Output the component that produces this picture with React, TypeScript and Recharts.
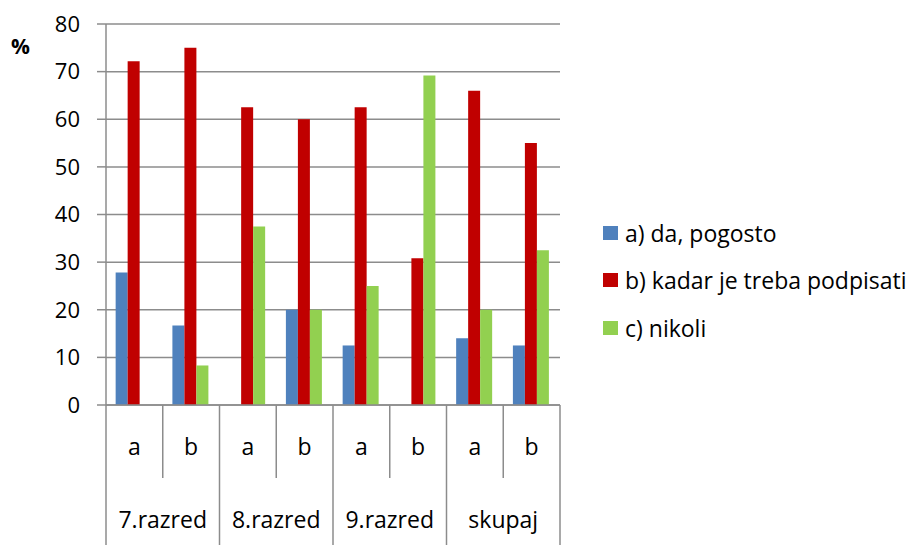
import { BarChart, Bar, XAxis, YAxis, CartesianGrid, Legend } from 'recharts';

const subLabels = ['a', 'b', 'a', 'b', 'a', 'b', 'a', 'b'];
const groupLabels = ['7.razred', '7.razred', '8.razred', '8.razred', '9.razred', '9.razred', 'skupaj', 'skupaj'];
const daPogosto = [27.8, 16.7, 0, 20, 12.5, 0, 14, 12.5];
const kadarTreba = [72.2, 75, 62.5, 60, 62.5, 30.8, 66, 55];
const nikoli = [0, 8.3, 37.5, 20, 25, 69.2, 20, 32.5];
const yTicks = [0, 10, 20, 30, 40, 50, 60, 70, 80];

const seriesNames = ['a) da, pogosto', 'b) kadar je treba podpisati', 'c) nikoli'];
const colors = ['#4f81bd', '#c00000', '#92d050'];

const data = subLabels.map((s, i) => ({
  idx: i,
  sub: s,
  group: groupLabels[i],
  a: daPogosto[i],
  b: kadarTreba[i],
  c: nikoli[i],
}));

const W = 913;
const H = 545;
const PLOT_LEFT = 106;
const PLOT_RIGHT = 560;
const PLOT_TOP = 24;
const PLOT_BOTTOM = 405;
const PLOT_W = PLOT_RIGHT - PLOT_LEFT;
const FONT = '"Open Sans", sans-serif';
const GRID = '#8c8c8c';

function MultiTick(props: any) {
  const { x, payload } = props;
  const i = payload.index;
  const band = PLOT_W / data.length;
  const left = x - band / 2;
  const isGroupStart = i % 2 === 0;
  return (
    <g>
      <line
        x1={left}
        x2={left}
        y1={PLOT_BOTTOM}
        y2={isGroupStart ? H : 478}
        stroke={GRID}
        strokeWidth={1.5}
      />
      {i === data.length - 1 && (
        <line x1={left + band} x2={left + band} y1={PLOT_BOTTOM} y2={H} stroke={GRID} strokeWidth={1.5} />
      )}
      <text x={x} y={455} textAnchor="middle" fontFamily={FONT} fontSize={23} fill="#000">
        {data[i].sub}
      </text>
      {!isGroupStart && (
        <text x={left} y={528} textAnchor="middle" fontFamily={FONT} fontSize={23} fill="#000">
          {data[i].group}
        </text>
      )}
    </g>
  );
}

function renderLegend() {
  return (
    <div style={{ fontFamily: FONT, fontSize: 23, color: '#000' }}>
      {seriesNames.map((n, i) => (
        <div key={n} style={{ display: 'flex', alignItems: 'center', height: 47.5, whiteSpace: 'nowrap' }}>
          <span style={{ display: 'inline-block', width: 15, height: 14, background: colors[i], marginRight: 7 }} />
          <span>{n}</span>
        </div>
      ))}
    </div>
  );
}

export default function App() {
  return (
    <div style={{ position: 'absolute', left: 0, top: 0, width: W, height: H, background: '#fff' }}>
      <BarChart
        width={W}
        height={H}
        data={data}
        margin={{ top: PLOT_TOP, right: W - PLOT_RIGHT, bottom: 0, left: 0 }}
        barCategoryGap="17%"
        barGap={0}
      >
        <CartesianGrid vertical={false} stroke={GRID} strokeWidth={1.5} />
        <XAxis
          dataKey="idx"
          height={H - PLOT_BOTTOM}
          axisLine={{ stroke: GRID, strokeWidth: 1.5 }}
          tickLine={false}
          tickSize={0}
          tickMargin={0}
          interval={0}
          tick={<MultiTick />}
        />
        <YAxis
          width={PLOT_LEFT}
          domain={[0, 80]}
          ticks={yTicks}
          interval={0}
          axisLine={{ stroke: GRID, strokeWidth: 1.5 }}
          tickLine={{ stroke: GRID, strokeWidth: 1.5 }}
          tickSize={9}
          tickMargin={17}
          tick={{ fill: '#000', fontSize: 22, fontFamily: FONT }}
        />
        <Legend
          verticalAlign="middle"
          align="center"
          layout="vertical"
          content={renderLegend}
          wrapperStyle={{ left: 603, top: 209, width: 310 }}
        />
        <Bar dataKey="a" name={seriesNames[0]} fill={colors[0]} isAnimationActive={false} />
        <Bar dataKey="b" name={seriesNames[1]} fill={colors[1]} isAnimationActive={false} />
        <Bar dataKey="c" name={seriesNames[2]} fill={colors[2]} isAnimationActive={false} />
      </BarChart>
      <div
        style={{
          position: 'absolute',
          left: 11,
          top: 32,
          fontFamily: FONT,
          fontSize: 21,
          fontWeight: 'bold',
          color: '#000',
        }}
      >
        %
      </div>
    </div>
  );
}
